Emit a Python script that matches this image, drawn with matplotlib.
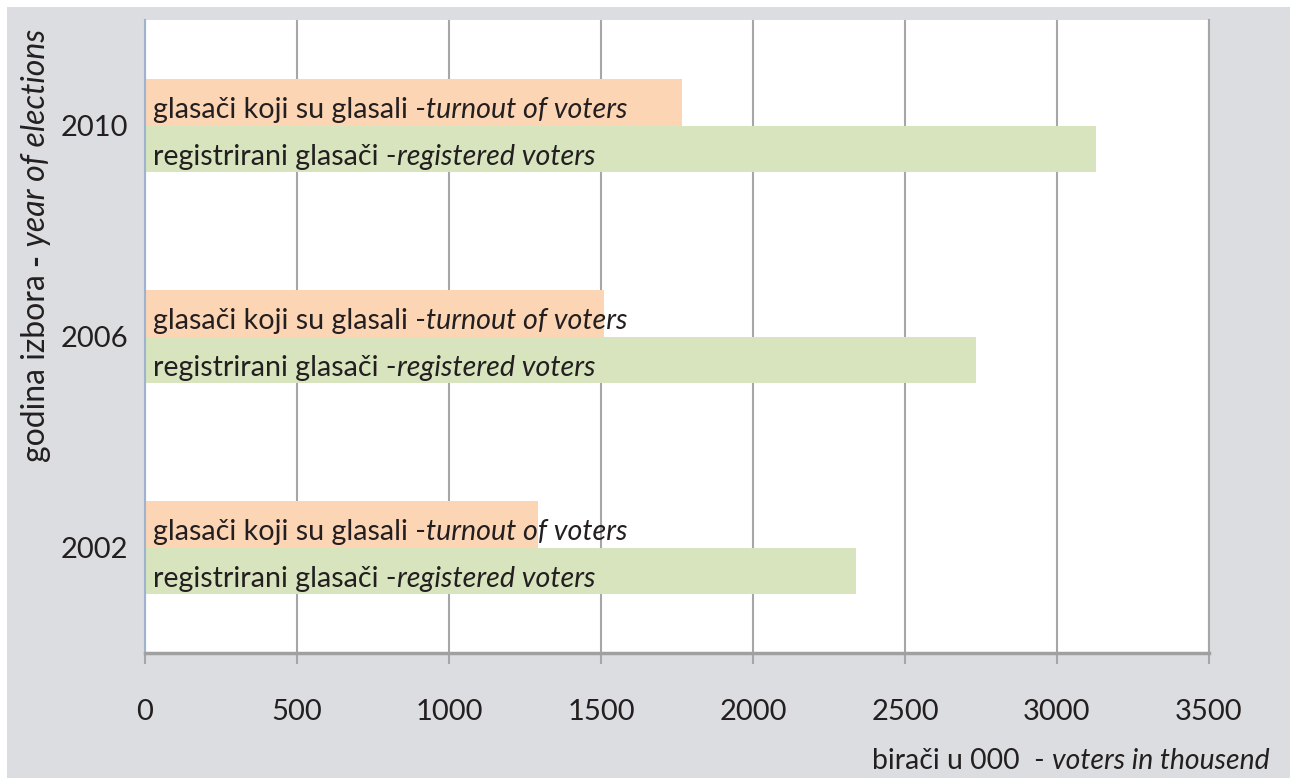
import matplotlib
matplotlib.use("Agg")
import matplotlib.pyplot as plt
from matplotlib.patches import Rectangle
import numpy as np

# ---- data ----
years = ["2002", "2006", "2010"]
turnout = [1294, 1510, 1766]
registered = [2339, 2733, 3128]
xticks = [0, 500, 1000, 1500, 2000, 2500, 3000, 3500]
turnout_label = ("glasači koji su glasali -", "turnout of voters")
registered_label = ("registrirani glasači -", "registered voters")
xlabel_parts = ("birači u 000  - ", "voters in thousend")
ylabel_parts = ("godina izbora ", "-", " year of elections")

FONT = "Lato"
TXT = "#231f20"
plt.rcParams["font.family"] = [FONT, "DejaVu Sans"]

W, H = 1290, 778
fig = plt.figure(figsize=(W / 100, H / 100), dpi=100)
fig.patch.set_facecolor("white")
fig.add_artist(Rectangle((7 / W, 0), 1 - 7 / W, 1 - 7 / H, transform=fig.transFigure,
                         facecolor="#dcdde0", edgecolor="none", zorder=-10))

ax = fig.add_axes([145 / W, 1 - 653 / H, (1209 - 145) / W, (653 - 20) / H])
ax.set_facecolor("white")

y = np.arange(len(years))
bh = 0.222
ax.barh(y + bh / 2, turnout, height=bh, color="#fcd5b5", zorder=2)
ax.barh(y - bh / 2, registered, height=bh, color="#d7e4bd", zorder=2)

ax.set_xlim(0, 3500)
ax.set_ylim(-0.5, 2.5)
ax.set_xticks(xticks)
ax.set_xticklabels([str(v) for v in xticks])
ax.set_yticks(y)
ax.set_yticklabels(years)
ax.grid(axis="x", color="#a6a6a6", linewidth=1.5, zorder=0)
ax.set_axisbelow(True)
ax.tick_params(axis="x", length=8, width=1.5, color="#a6a6a6", pad=25,
               labelsize=21, labelcolor=TXT)
ax.tick_params(axis="y", length=0, pad=12, labelsize=21, labelcolor=TXT)
for lab in ax.get_xticklabels() + ax.get_yticklabels():
    lab.set_fontfamily(FONT)

ax.spines["top"].set_visible(False)
ax.spines["right"].set_color("#a6a6a6")
ax.spines["right"].set_linewidth(1.5)
ax.spines["left"].set_color("#9fb3cf")
ax.spines["left"].set_linewidth(1.5)
ax.spines["bottom"].set_color("#a0a0a0")
ax.spines["bottom"].set_linewidth(2.5)

def two_part(xpos, ypos, parts, size=20.6):
    t1 = ax.annotate(parts[0], xy=(xpos, ypos), xytext=(6, -11.5), textcoords="offset points",
                     ha="left", va="baseline", fontsize=size, color=TXT, zorder=5,
                     family=FONT)
    ax.annotate(parts[1], xy=(1, 0), xycoords=t1, ha="left", va="bottom",
                fontsize=size, color=TXT, style="italic", zorder=5, family=FONT)

for i in range(len(years)):
    two_part(0, y[i] + bh / 2, turnout_label)
    two_part(0, y[i] - bh / 2, registered_label)

# x label (right aligned)
xl2 = fig.text(1270 / W, 1 - 769 / H, xlabel_parts[1], ha="right", va="baseline",
               fontsize=20.4, style="italic", color=TXT, family=FONT)
xl1 = plt.annotate(xlabel_parts[0], xy=(0, 0), xycoords=xl2, ha="right", va="bottom",
                   fontsize=20.4, color=TXT, family=FONT, annotation_clip=False)

# y label (rotated, stacked pieces)
yl1 = fig.text(36 / W, 1 - 462 / H, ylabel_parts[0], rotation=90, ha="center", va="bottom",
               fontsize=23, color=TXT, family=FONT)
yl2 = plt.annotate(ylabel_parts[1], xy=(0.5, 1), xycoords=yl1, rotation=90, ha="center",
                   va="bottom", fontsize=23, color=TXT, weight="bold", family=FONT,
                   annotation_clip=False)
yl3 = plt.annotate(ylabel_parts[2], xy=(0.5, 1), xycoords=yl2, rotation=90, ha="center",
                   va="bottom", fontsize=23, color=TXT, style="italic", family=FONT,
                   annotation_clip=False)

fig.savefig("out.png", dpi=100)
